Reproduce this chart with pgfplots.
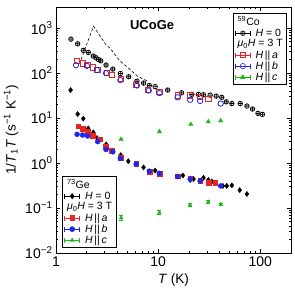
\documentclass[border=0pt]{standalone}
\usepackage{fontspec}
\setmainfont{Liberation Sans}
\usepackage{pgfplots}
\pgfplotsset{compat=1.18}
\definecolor{myred}{RGB}{235,35,35}
\definecolor{myblue}{RGB}{30,40,230}
\definecolor{mygreen}{RGB}{25,185,25}
\begin{document}
\begin{tikzpicture}
\begin{axis}[xmode=log, ymode=log, scale only axis, width=235pt, height=246pt,
    xmin=1, xmax=200, ymin=0.01, ymax=2950,
    xtick={1,10,100}, xticklabels={1,10,100},
    ytick={0.01,0.1,1,10,100,1000},
    yticklabels={10\textsuperscript{−2},10\textsuperscript{−1},10\textsuperscript{0},10\textsuperscript{1},10\textsuperscript{2},10\textsuperscript{3}},
    tick label style={font=\fontsize{14}{16}\selectfont},
    label style={font=\fontsize{13.5}{16}\selectfont},
    axis line style={line width=0.8pt}, tick style={line width=0.6pt, black},
    major tick length=4.5pt, minor tick length=2.5pt,
    legend cell align=left,
    legend style={draw=black, line width=0.6pt, fill=white, font=\fontsize{10.5}{12}\selectfont, row sep=-2pt, inner xsep=2pt, inner ysep=1pt,
      at={(0.983,0.976)}, anchor=north east},
    legend image code/.code={
      \draw[#1,mark=none,solid,line width=0.6pt] (0pt,0pt)--(15pt,0pt) (0pt,-2.5pt)--(0pt,2.5pt) (15pt,-2.5pt)--(15pt,2.5pt);
      \draw[#1,line width=0.6pt] plot coordinates {(7.5pt,0pt)};
    },
  xlabel={\textit{T} (K)},
  ylabel={1/\textit{T}\textsubscript{1}\textit{T} (s\textsuperscript{−1} K\textsuperscript{−1})},
]
\addlegendimage{empty legend}\addlegendentry{\hspace*{-15pt}\textsuperscript{59}Co}
\addplot[only marks, mark=oplus, mark size=2.3pt, black, line width=0.7pt] coordinates {
(1.40,570) (1.63,448) (1.85,320) (2.07,288) (2.32,239) (2.47,219) (2.6,201) (2.74,188)
(3.09,151) (3.6,123) (4.27,98) (5.15,83) (6.2,66) (7.2,60) (8.2,53) (9.35,50) (12.4,42)
(17,36.5) (21.4,33.6) (24.8,33.6) (27.8,33) (32.3,32.4) (37,30.8) (42,28.9) (46.4,23)
(52.7,21) (63.7,21) (74,18.5) (84,15.9) (95,12.7) (105,12.1)};
\addlegendentry{\hspace*{3pt}\textit{H} = 0}
\addlegendimage{empty legend}\addlegendentry{\hspace*{-15pt}\textit{μ}\textsubscript{0}\textit{H} = 3 T}
\addplot[only marks, mark=square, mark size=2.6pt, myred, line width=0.8pt] coordinates {
(1.61,188) (1.82,164) (2.03,151) (2.29,134) (2.54,116) (3.14,102) (3.55,90) (4.3,74)
(6.1,55) (8,43) (10.3,38) (15.5,32) (20.6,32) (25.8,29) (31,26.5)};
\addlegendentry{\hspace*{3pt}\textit{H}\,||\,\textit{a}}
\addplot[only marks, mark=o, mark size=2.7pt, myblue, line width=0.8pt] coordinates {
(1.57,150) (2.01,145) (2.52,117) (3.09,100) (4.27,70) (6.2,53) (8.1,41) (10.3,36)
(15.5,29) (20.6,25.5) (25.8,24) (41,21)};
\addlegendentry{\hspace*{3pt}\textit{H}\,||\,\textit{b}}
\addplot[only marks, mark=triangle*, mark size=2.5pt, mygreen] coordinates {
(4.34,3.4) (10.3,5.0) (20.9,7.2) (31,8.3) (41,8.7)};
\addlegendentry{\hspace*{3pt}\textit{H}\,||\,\textit{c}}
\addplot[forget plot, black, dashed, line width=0.6pt, dash pattern=on 3pt off 2pt] coordinates {
(1.76,201) (2.33,1100) (3.1,420) (3.38,360) (4.2,190) (5.2,125) (6.3,85) (8.0,65)};
\node[font=\bfseries\fontsize{13}{15}\selectfont] at (rel axis cs:0.409,0.927) {UCoGe};
\end{axis}
\begin{axis}[xmode=log, ymode=log, scale only axis, width=235pt, height=246pt,
    xmin=1, xmax=200, ymin=0.01, ymax=2950, hide axis,
    legend cell align=left,
    legend style={draw=black, line width=0.6pt, fill=white, font=\fontsize{10.5}{12}\selectfont, row sep=-2pt, inner xsep=2pt, inner ysep=1pt,
      at={(0.026,0.02)}, anchor=south west},
    legend image code/.code={
      \draw[#1,mark=none,solid,line width=0.6pt] (0pt,0pt)--(15pt,0pt) (0pt,-2.5pt)--(0pt,2.5pt) (15pt,-2.5pt)--(15pt,2.5pt);
      \draw[#1,line width=0.6pt] plot coordinates {(7.5pt,0pt)};
    },
]
\addlegendimage{empty legend}\addlegendentry{\hspace*{-15pt}\textsuperscript{73}Ge}
\addplot[only marks, mark=diamond*, mark size=2.6pt, black] coordinates {
(1.39,42) (1.63,12.3) (1.85,9.7) (2.07,5.9) (2.32,4.8) (2.52,3.6) (3.1,2.6) (4.3,1.5)
(5.1,1.1) (7.2,0.8) (9.35,0.68) (17.5,0.53) (20.6,0.42) (22.2,0.44) (27.8,0.47) (31,0.42)
(33.6,0.39) (43,0.31) (47,0.31) (52.7,0.32) (63,0.25) (74,0.205)};
\addlegendentry{\hspace*{3pt}\textit{H} = 0}
\addlegendimage{empty legend}\addlegendentry{\hspace*{-15pt}\textit{μ}\textsubscript{0}\textit{H} = 3 T}
\addplot[only marks, mark=square*, mark size=2.4pt, myred] coordinates {
(1.65,6.6) (1.82,5.7) (2.04,5.0) (2.29,4.0) (2.66,3.4) (3.09,2.3) (3.54,1.9) (4.27,1.34)
(6.1,0.97) (8.2,0.64) (10.3,0.59) (15.5,0.51) (20.6,0.46) (25.8,0.40) (31,0.36) (36.2,0.37)};
\addlegendentry{\hspace*{3pt}\textit{H}\,||\,\textit{a}}
\addplot[only marks, mark=*, mark size=2.5pt, myblue] coordinates {
(1.61,4.35) (1.82,4.2) (2.04,4.0) (2.56,3.0) (3.09,2.0) (3.6,1.78) (4.27,1.27) (6.1,0.95)
(8.2,0.66) (10.3,0.59) (15.5,0.50) (20.6,0.44) (25.8,0.40) (41,0.31)};
\addlegendentry{\hspace*{3pt}\textit{H}\,||\,\textit{b}}
\addplot[only marks, mark=triangle*, mark size=2pt, mygreen,
  error bars/.cd, y dir=both, y explicit, error bar style={line width=0.6pt}] coordinates {
(4.34,0.061) +- (0,0.008) (10.3,0.080) +- (0,0.008) (20.6,0.117) +- (0,0.008)
(31,0.138) +- (0,0.008) (41,0.121) +- (0,0.008)};
\addlegendentry{\hspace*{3pt}\textit{H}\,||\,\textit{c}}
\end{axis}
\pgfresetboundingbox
\path[use as bounding box] (-56pt,-42pt) rectangle (239pt,253pt);
\end{tikzpicture}
\end{document}
